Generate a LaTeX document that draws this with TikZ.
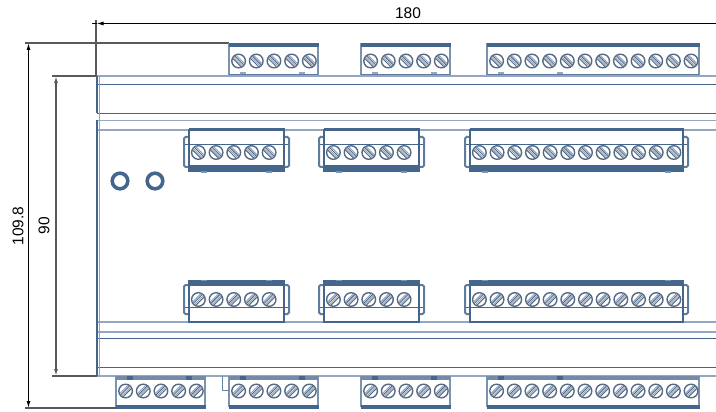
\documentclass[tikz,border=0pt]{standalone}
\usepackage{fontspec}
\setmainfont{Liberation Sans}
\usepackage{xcolor}
\usetikzlibrary{arrows.meta}
\definecolor{railblue}{HTML}{44658C}
\definecolor{paleblue}{HTML}{93A6C2}
\definecolor{screwgray}{HTML}{566A84}
\tikzset{
  rail/.style={railblue, line width=1.2pt},
  palerail/.style={paleblue, line width=1.7pt},
  band/.style={fill=railblue, draw=none},
  dimline/.style={black, line width=1.1pt},
  extline/.style={black!65, line width=1.4pt},
  dimtext/.style={font=\fontsize{15.5}{16}\selectfont, inner sep=0pt},
  clip part/.style={railblue!85, line width=2pt, rounded corners=1.5pt},
}
% one screw head: #1 x, #2 y, #3 slant of the slot
\newcommand{\screwhead}[3]{
  \draw[screwgray, line width=1.4pt, fill=white] (#1,#2) circle [radius=6.8];
  \begin{scope}[shift={(#1,#2)}, rotate=#3]
    \draw[paleblue, line width=1pt] (-5.6,-2.3)--++(11.2,0);
    \draw[screwgray, line width=1pt] (-6,-0.8)--++(12,0);
    \draw[paleblue, line width=1pt] (-6,0.8)--++(12,0);
    \draw[screwgray, line width=1pt] (-5.6,2.3)--++(11.2,0);
  \end{scope}
}
% row of screws: #1 first x, #2 y, #3 count minus one, #4 slant
\newcommand{\screwrow}[4]{
  \foreach \n in {0,...,#3} {
    \pgfmathsetmacro{\sx}{#1+17.68*\n}
    \screwhead{\sx}{#2}{#4}
  }
}
% block on the upper rail: #1 left, #2 right, #3 screw count minus one
\newcommand{\upperblock}[3]{
  \fill[white] (#1,43)--(#2,43)--(#2,75)--(#1,75)--cycle;
  \draw[railblue!70, line width=1.2pt] (#1,43)--(#1,75);
  \draw[railblue!70, line width=1.2pt] (#2,43)--(#2,75);
  \fill[band] (#1-0.5,43) rectangle (#2+0.5,47);
  \draw[railblue!85, line width=1.8pt] (#1,74.5)--(#2,74.5);
  \fill[paleblue] (#1+11,72.5) rectangle (#1+17,74);
  \fill[paleblue] (#1+70,72.5) rectangle (#1+76,74);
  \pgfmathsetmacro{\fx}{#1+9.6}
  \screwrow{\fx}{61}{#3}{-45}
}
% block on the lower rail: #1 left, #2 right, #3 screw count minus one
\newcommand{\lowerblock}[3]{
  \fill[white] (#1,376)--(#2,376)--(#2,407)--(#1,407)--cycle;
  \draw[railblue!70, line width=1.2pt] (#1,376)--(#1,407);
  \draw[railblue!70, line width=1.2pt] (#2,376)--(#2,407);
  \fill[railblue!75] (#1,376) rectangle (#2,380);
  \fill[band] (#1-0.5,405) rectangle (#2+0.5,408.5);
  \fill[railblue] (#1+11,376) rectangle (#1+17,379.5);
  \fill[railblue] (#1+70,376) rectangle (#1+76,379.5);
  \pgfmathsetmacro{\fx}{#1+9.6}
  \screwrow{\fx}{391}{#3}{45}
}
% top half pluggable part: #1 left, #2 right, #3 screw count minus one
\newcommand{\plugtop}[3]{
  \draw[clip part] (#1,137)--(#1-5,137)--(#1-5,167)--(#1,167);
  \draw[clip part] (#2,137)--(#2+5,137)--(#2+5,167)--(#2,167);
  \fill[white] (#1,130) rectangle (#2,171);
  \draw[rail] (#1,130) rectangle (#2,171);
  \fill[band] (#1-0.5,128.5) rectangle (#2+0.5,131);
  \draw[rail] (#1-4,144.5)--(#2+4,144.5);
  \fill[band] (#1-0.5,165) rectangle (#2+0.5,171.5);
  \fill[railblue!70] (#1+12,171) rectangle (#1+18,172.5);
  \fill[railblue!70] (#2-18,171) rectangle (#2-12,172.5);
  \pgfmathsetmacro{\fx}{#1+9.4}
  \screwrow{\fx}{152.5}{#3}{-45}
}
% bottom half pluggable part: #1 left, #2 right, #3 screw count minus one
\newcommand{\plugbottom}[3]{
  \draw[clip part] (#1,285)--(#1-5,285)--(#1-5,314)--(#1,314);
  \draw[clip part] (#2,285)--(#2+5,285)--(#2+5,314)--(#2,314);
  \fill[white] (#1,281) rectangle (#2,322);
  \draw[rail] (#1,281) rectangle (#2,322);
  \fill[band] (#1-0.5,281) rectangle (#2+0.5,286);
  \draw[rail] (#1-4,307.5)--(#2+4,307.5);
  \draw[rail, line width=2pt] (#1,322)--(#2,322);
  \fill[railblue!70] (#1+12,279.5) rectangle (#1+18,281);
  \fill[railblue!70] (#2-18,279.5) rectangle (#2-12,281);
  \pgfmathsetmacro{\fx}{#1+9.4}
  \screwrow{\fx}{299.5}{#3}{45}
}

\begin{document}
\begin{tikzpicture}[x=1pt, y=-1pt]
\useasboundingbox (0,0) rectangle (716,412);

% rails
\draw[palerail] (97,76)--(716,76);
\draw[rail] (97,84.5)--(716,84.5);
\draw[rail] (97,113.5)--(716,113.5);
\draw[palerail] (97,120.5)--(716,120.5);
\draw[palerail] (97,130)--(716,130);

\draw[palerail] (97,322)--(716,322);
\draw[palerail] (97,332)--(716,332);
\draw[rail] (97,338.5)--(716,338.5);
\draw[rail] (97,367.5)--(716,367.5);
\draw[palerail] (97,376)--(716,376);

% left edge
\draw[railblue, line width=2.4pt] (97,76)--(97,113.5);
\draw[railblue, line width=2.4pt] (97,120.5)--(97,376);
\draw[paleblue, line width=1pt] (99,76)--(99,376);

% dimension lines
\coordinate (widthstart) at (96.5,23.5);
\coordinate (widthend) at (716,23.5);
\coordinate (widthstub) at (92,23.5);
\coordinate (widthext top) at (96,20);
\coordinate (widthext low) at (96,76);
\coordinate (heighttop) at (28.5,43);
\coordinate (heightlow) at (28.5,408);
\coordinate (railtop) at (56,76);
\coordinate (raillow) at (56,376);
\coordinate (heightext top) at (25,43);
\coordinate (heightext topend) at (229,43);
\coordinate (heightext low) at (25,408);
\coordinate (heightext lowend) at (116,408);
\coordinate (railext top) at (52,76);
\coordinate (railext topend) at (97,76);
\coordinate (railext low) at (52,376);
\coordinate (railext lowend) at (97,376);

\draw[extline] (widthext top)--(widthext low);
\draw[extline] (heightext top)--(heightext topend);
\draw[extline] (heightext low)--(heightext lowend);
\draw[extline] (railext top)--(railext topend);
\draw[extline] (railext low)--(railext lowend);

\draw[dimline] (widthstub)--(widthstart);
\draw[dimline, {Latex[length=7pt,width=4pt]}-] (widthstart)--(widthend);
\draw[dimline, {Latex[length=7pt,width=4pt]}-{Latex[length=7pt,width=4pt]}] (heighttop)--(heightlow);
\draw[extline, {Latex[length=7pt,width=4pt]}-{Latex[length=7pt,width=4pt]}] (railtop)--(raillow);

\node[dimtext] (widthlabel) at (408,13) {180};
\node[dimtext, rotate=90] (heightlabel) at (18,226) {109.8};
\node[dimtext, rotate=90] (raillabel) at (44,225.5) {90};

% bolts
\draw[railblue, line width=3.6pt] (120,181) circle [radius=7.8];
\draw[railblue, line width=3.6pt] (155,181) circle [radius=7.8];

% upper row
\upperblock{229}{318}{4}
\upperblock{361}{450}{4}
\upperblock{487}{699}{11}

% inner rows
\plugtop{189}{284}{4}
\plugtop{324}{419}{4}
\plugtop{470}{683}{11}

\plugbottom{189}{284}{4}
\plugbottom{324}{419}{4}
\plugbottom{470}{683}{11}

% lower row
\lowerblock{116}{205}{4}
\lowerblock{229}{318}{4}
\lowerblock{361}{450}{4}
\lowerblock{487}{699}{11}

% small step beside the second lower block
\draw[railblue!80, line width=1pt] (222.5,376)--(222.5,390)--(229,390);

\end{tikzpicture}
\end{document}
